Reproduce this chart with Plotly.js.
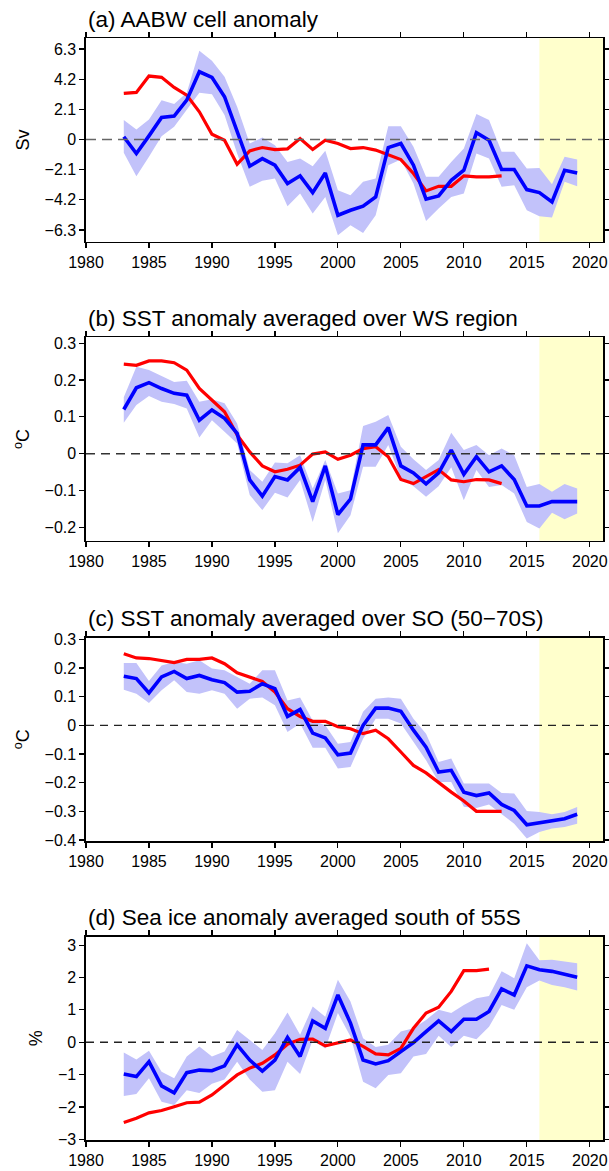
<!DOCTYPE html>
<html>
<head>
<meta charset="utf-8">
<script src="https://cdn.plot.ly/plotly-3.0.1.min.js"></script>
<style>html,body{margin:0;padding:0;background:#fff;}#chart{width:609px;height:1171px;}</style>
</head>
<body>
<div id="chart"></div>
<script>
// ---------- data ----------
var yearsBlue = [1983,1984,1985,1986,1987,1988,1989,1990,1991,1992,1993,1994,1995,1996,1997,1998,1999,2000,2001,2002,2003,2004,2005,2006,2007,2008,2009,2010,2011,2012,2013,2014,2015,2016,2017,2018,2019];
var yearsRed = [1983,1984,1985,1986,1987,1988,1989,1990,1991,1992,1993,1994,1995,1996,1997,1998,1999,2000,2001,2002,2003,2004,2005,2006,2007,2008,2009,2010,2011,2012,2013];
var yearsRedD = [1983,1984,1985,1986,1987,1988,1989,1990,1991,1992,1993,1994,1995,1996,1997,1998,1999,2000,2001,2002,2003,2004,2005,2006,2007,2008,2009,2010,2011,2012];

// (a) AABW cell anomaly (Sv)
var aBlue = [0.19,-0.98,0.25,1.53,1.63,2.74,4.72,4.33,2.98,0.65,-1.86,-1.33,-1.79,-3.07,-2.53,-3.70,-2.33,-5.28,-4.93,-4.65,-4.0,-0.56,-0.28,-1.79,-4.16,-3.93,-2.84,-2.14,0.47,-0.05,-2.09,-2.09,-3.49,-3.70,-4.35,-2.14,-2.33];
var aUpper = [1.35,0.70,1.40,2.74,2.47,3.26,6.19,5.49,4.37,2.28,-0.28,0.14,-0.40,-1.56,-1.33,-1.86,-0.79,-3.53,-3.88,-2.95,-2.72,0.93,0.93,-0.51,-2.60,-2.60,-1.56,-0.63,1.77,1.35,-0.86,-0.86,-2.02,-1.98,-3.12,-1.21,-1.40];
var aLower = [-0.93,-2.56,-1.20,0.23,0.88,2.09,3.26,3.16,1.70,-0.98,-3.30,-2.88,-2.72,-4.65,-3.77,-5.16,-4.0,-6.67,-5.98,-6.51,-5.28,-1.79,-1.40,-3.07,-5.67,-4.81,-4.0,-3.77,-0.98,-1.33,-3.30,-3.19,-4.93,-5.35,-5.44,-2.95,-3.26];
var aRed = [3.21,3.28,4.42,4.33,3.63,3.09,1.93,0.37,-0.05,-1.72,-0.79,-0.56,-0.70,-0.65,0.07,-0.70,-0.05,-0.28,-0.63,-0.56,-0.74,-1.09,-1.40,-2.37,-3.58,-3.26,-3.26,-2.53,-2.60,-2.60,-2.53];

// (b) SST anomaly averaged over WS region (oC)
var bBlue = [0.120,0.179,0.193,0.177,0.164,0.159,0.091,0.119,0.096,0.055,-0.071,-0.115,-0.062,-0.071,-0.037,-0.130,-0.033,-0.165,-0.123,0.024,0.024,0.071,-0.033,-0.052,-0.082,-0.052,0.010,-0.056,-0.008,-0.049,-0.033,-0.070,-0.142,-0.142,-0.130,-0.130,-0.130];
var bUpper = [0.153,0.236,0.227,0.211,0.195,0.198,0.141,0.148,0.137,0.082,-0.044,-0.076,-0.024,-0.026,-0.004,-0.094,-0.017,-0.108,-0.099,0.075,0.087,0.105,0.019,-0.015,-0.044,-0.017,0.057,0.010,0.024,-0.004,0.014,-0.004,-0.090,-0.082,-0.103,-0.082,-0.094];
var bLower = [0.084,0.132,0.157,0.141,0.135,0.123,0.044,0.091,0.060,0.028,-0.112,-0.153,-0.106,-0.119,-0.071,-0.185,-0.071,-0.216,-0.167,-0.035,-0.035,0.024,-0.067,-0.088,-0.117,-0.088,-0.037,-0.126,-0.044,-0.090,-0.085,-0.108,-0.185,-0.203,-0.160,-0.178,-0.162];
var bRed = [0.243,0.240,0.252,0.252,0.247,0.227,0.177,0.146,0.114,0.051,0.005,-0.033,-0.049,-0.042,-0.031,-0.001,0.005,-0.015,-0.004,0.014,0.019,-0.008,-0.070,-0.081,-0.062,-0.043,-0.071,-0.076,-0.070,-0.071,-0.081];

// (c) SST anomaly averaged over SO (50-70S) (oC)
var cBlue = [0.171,0.163,0.113,0.169,0.188,0.163,0.174,0.159,0.149,0.116,0.119,0.145,0.128,0.031,0.055,-0.027,-0.044,-0.103,-0.097,0.0,0.060,0.060,0.049,-0.017,-0.076,-0.163,-0.157,-0.233,-0.245,-0.236,-0.276,-0.297,-0.347,-0.340,-0.334,-0.326,-0.310];
var cUpper = [0.217,0.217,0.155,0.209,0.221,0.215,0.227,0.198,0.192,0.169,0.145,0.192,0.192,0.087,0.097,0.017,0.0,-0.064,-0.058,0.047,0.093,0.097,0.093,0.023,-0.029,-0.128,-0.116,-0.203,-0.203,-0.203,-0.236,-0.238,-0.299,-0.302,-0.310,-0.302,-0.285];
var cLower = [0.124,0.110,0.078,0.122,0.157,0.116,0.110,0.122,0.110,0.058,0.093,0.097,0.070,-0.023,0.006,-0.078,-0.078,-0.151,-0.145,-0.047,0.023,0.023,0.006,-0.058,-0.122,-0.198,-0.198,-0.284,-0.288,-0.276,-0.310,-0.343,-0.395,-0.372,-0.360,-0.355,-0.343];
var cRed = [0.250,0.235,0.233,0.227,0.219,0.230,0.230,0.235,0.215,0.183,0.169,0.153,0.116,0.058,0.031,0.014,0.014,-0.005,-0.012,-0.029,-0.017,-0.047,-0.093,-0.140,-0.166,-0.201,-0.233,-0.264,-0.300,-0.300,-0.300];

// (d) Sea ice anomaly averaged south of 55S (%)
var dBlue = [-0.98,-1.06,-0.60,-1.35,-1.56,-0.94,-0.86,-0.88,-0.73,-0.08,-0.55,-0.89,-0.55,0.15,-0.44,0.66,0.43,1.46,0.59,-0.55,-0.67,-0.57,-0.29,-0.01,0.33,0.66,0.33,0.71,0.71,0.95,1.65,1.46,2.36,2.24,2.19,2.10,2.01];
var dUpper = [-0.32,-0.53,-0.26,-0.91,-1.11,-0.44,-0.13,-0.44,-0.29,0.38,0.07,-0.24,0.28,0.92,0.23,1.10,0.79,1.93,1.26,0.12,-0.15,-0.08,0.33,0.43,0.69,1.00,0.90,1.15,1.36,1.43,2.19,1.98,3.06,2.53,2.55,2.49,2.44];
var dLower = [-1.66,-1.60,-1.11,-1.84,-1.94,-1.48,-1.57,-1.28,-1.15,-0.60,-1.15,-1.53,-1.48,-0.60,-0.98,0.07,-0.19,0.90,0.18,-1.22,-1.42,-1.01,-0.96,-0.44,-0.36,0.20,-0.15,0.20,0.09,0.48,1.15,1.00,1.70,1.91,1.77,1.70,1.60];
var dRed = [-2.48,-2.35,-2.18,-2.11,-1.99,-1.87,-1.85,-1.63,-1.32,-1.01,-0.80,-0.65,-0.39,-0.06,0.09,0.10,-0.11,-0.02,0.07,-0.13,-0.36,-0.39,-0.19,0.43,0.90,1.08,1.57,2.21,2.21,2.26];

var titles = ["(a) AABW cell anomaly","(b) SST anomaly averaged over WS region","(c) SST anomaly averaged over SO (50\u221270S)","(d) Sea ice anomaly averaged south of 55S"];
var yTitles = ["Sv","<sup>o</sup>C","<sup>o</sup>C","%"];
var xTickVals = [1980,1985,1990,1995,2000,2005,2010,2015,2020];
var aTickVals = [-6.3,-4.2,-2.1,0,2.1,4.2,6.3];
var aTickText = ["\u22126.3","\u22124.2","\u22122.1","0","2.1","4.2","6.3"];
var bTickVals = [-0.2,-0.1,0,0.1,0.2,0.3];
var cTickVals = [-0.4,-0.3,-0.2,-0.1,0,0.1,0.2,0.3];
var dTickVals = [-3,-2,-1,0,1,2,3];
var highlightStart = 2016;

// ---------- layout helpers ----------
var H = 1171;
var panelsPx = [[38.3,241.7],[337.3,540.7],[637.6,841],[936.7,1140]];
var yRanges = [[-7.12,7.05],[-0.236,0.316],[-0.4035,0.306],[-3.02,3.26]];
var xRange = [1980, 2021.05];
var font = "Liberation Sans, Arial, Helvetica, sans-serif";
var zeroLineStyles = [
  {color: "#666", width: 1.3, dash: "10px,6px"},
  {color: "#333", width: 1.3, dash: "9px,6px"},
  {color: "#222", width: 1.3, dash: "8px,6px"},
  {color: "#222", width: 1.3, dash: "8px,6px"}
];

var panels = [
  {blue:aBlue, up:aUpper, lo:aLower, red:aRed, yr:yearsRed, tv:aTickVals, tt:aTickText},
  {blue:bBlue, up:bUpper, lo:bLower, red:bRed, yr:yearsRed, tv:bTickVals},
  {blue:cBlue, up:cUpper, lo:cLower, red:cRed, yr:yearsRed, tv:cTickVals},
  {blue:dBlue, up:dUpper, lo:dLower, red:dRed, yr:yearsRedD, tv:dTickVals}
];

var data = [];
var layout = {
  width: 609, height: 1171,
  margin: {l:86, r:6, t:0, b:0, pad:0},
  paper_bgcolor: "#fff", plot_bgcolor: "rgba(0,0,0,0)",
  showlegend: false,
  font: {family: font, color: "#000", size: 16},
  shapes: [], annotations: []
};

panels.forEach(function(p, i){
  var n = i + 1;
  var xa = n === 1 ? "x" : "x" + n;
  var ya = n === 1 ? "y" : "y" + n;
  var xKey = n === 1 ? "xaxis" : "xaxis" + n;
  var yKey = n === 1 ? "yaxis" : "yaxis" + n;
  var dom = [1 - panelsPx[i][1]/H, 1 - panelsPx[i][0]/H];

  data.push({x: yearsBlue, y: p.up, xaxis: xa, yaxis: ya, type: "scatter", mode: "lines",
             line: {width: 0, color: "rgba(0,0,0,0)"}, hoverinfo: "skip"});
  data.push({x: yearsBlue, y: p.lo, xaxis: xa, yaxis: ya, type: "scatter", mode: "lines",
             fill: "tonexty", fillcolor: "#C2C2FA", line: {width: 0, color: "rgba(0,0,0,0)"}, hoverinfo: "skip"});
  data.push({x: p.yr, y: p.red, xaxis: xa, yaxis: ya, type: "scatter", mode: "lines",
             line: {color: "#FF0000", width: 3.2}});
  data.push({x: yearsBlue, y: p.blue, xaxis: xa, yaxis: ya, type: "scatter", mode: "lines",
             line: {color: "#0000FF", width: 3.6}});

  layout[xKey] = {
    domain: [0,1], anchor: ya, range: xRange, tickmode: "array", tickvals: xTickVals,
    ticks: "outside", ticklen: 5, tickwidth: 1.2, tickcolor: "#000",
    showline: true, linecolor: "#000", linewidth: 1.6, mirror: "ticks",
    showgrid: false, zeroline: false, tickfont: {size: 16, family: font, color: "#000"}
  };
  var yax = {
    domain: dom, anchor: xa, range: yRanges[i], tickmode: "array", tickvals: p.tv,
    ticks: "outside", ticklen: 5, tickwidth: 1.2, tickcolor: "#000",
    showline: true, linecolor: "#000", linewidth: 1.6, mirror: "ticks",
    showgrid: false, zeroline: false, tickfont: {size: 16, family: font, color: "#000"},
    title: {text: yTitles[i], font: {size: 18, family: font, color: "#000"}, standoff: 10}
  };
  if (p.tt) yax.ticktext = p.tt;
  layout[yKey] = yax;

  layout.shapes.push({type: "rect", xref: xa, yref: ya + " domain", x0: highlightStart, x1: xRange[1], y0: 0, y1: 1,
                      fillcolor: "#FFFFCC", line: {width: 0}, layer: "below"});
  layout.shapes.push({type: "line", xref: xa + " domain", yref: ya, x0: 0, x1: 1, y0: 0, y1: 0,
                      line: zeroLineStyles[i], layer: "above"});

  layout.annotations.push({text: titles[i], xref: "paper", yref: "paper", x: 0, y: 1 - (panelsPx[i][0] - 19)/H,
                           xanchor: "left", yanchor: "middle", showarrow: false,
                           font: {size: 22.5, family: font, color: "#000"}});
});

Plotly.newPlot("chart", data, layout, {staticPlot: true, displayModeBar: false});
</script>
</body>
</html>
